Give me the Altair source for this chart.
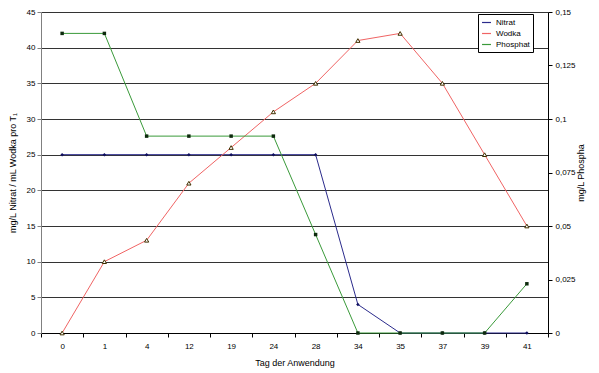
import altair as alt
import pandas as pd

days = ["0", "1", "4", "12", "19", "24", "28", "34", "35", "37", "39", "41"]
nitrat = [25, 25, 25, 25, 25, 25, 25, 4, 0, 0, 0, 0]
wodka = [0, 10, 13, 21, 26, 31, 35, 41, 42, 35, 25, 15]
phosphat = [0.14, 0.14, 0.092, 0.092, 0.092, 0.092, 0.046, 0, 0, 0, 0, 0.023]
series_names = ["Nitrat", "Wodka", "Phosphat"]
series_colors = ["#2b2b8c", "#f06464", "#3a9a3a"]

left_rows = []
for d, n, w in zip(days, nitrat, wodka):
    left_rows.append({"Tag": d, "Serie": "Nitrat", "Wert": n})
    left_rows.append({"Tag": d, "Serie": "Wodka", "Wert": w})
left_df = pd.DataFrame(left_rows)
phos_df = pd.DataFrame({"Tag": days, "Serie": "Phosphat", "Phos": phosphat})

FONT = "Liberation Sans"

x_enc = alt.X(
    "Tag:N",
    sort=days,
    bandPosition=0.5,
    scale=alt.Scale(type="band", paddingInner=0, paddingOuter=0),
    axis=alt.Axis(
        title="Tag der Anwendung",
        labelAngle=0,
        tickBand="extent",
        tickSize=4,
        tickColor="#000000",
        domainColor="#000000",
        labelPadding=5,
        titlePadding=8,
        grid=False,
    ),
)

color_scale = alt.Scale(domain=series_names, range=series_colors)
legend = alt.Legend(
    title=None,
    orient="none",
    legendX=437,
    legendY=2,
    symbolType="stroke",
    symbolSize=80,
    symbolStrokeWidth=1.2,
    strokeColor="#000000",
    fillColor="#ffffff",
    padding=3,
    rowPadding=1,
    labelFontSize=8,
    labelFont=FONT,
    labelLimit=60,
)

y_left = alt.Y(
    "Wert:Q",
    scale=alt.Scale(domain=[0, 45], nice=False),
    axis=alt.Axis(
        title="mg/L Nitrat / mL Wodka pro T₁",
        values=list(range(0, 50, 5)),
        grid=True,
        gridColor="#333333",
        gridWidth=1,
        domainColor="#808080",
        tickColor="#808080",
        tickSize=4,
        labelPadding=2,
        titlePadding=9,
    ),
)

base_left = alt.Chart(left_df)
left_lines = base_left.mark_line(strokeWidth=1).encode(
    x=x_enc,
    y=y_left,
    color=alt.Color("Serie:N", scale=color_scale, legend=legend),
    detail="Serie:N",
)
nitrat_pts = base_left.transform_filter(alt.datum.Serie == "Nitrat").mark_point(
    shape="diamond", filled=True, size=12, color="#101060", opacity=1
).encode(x=x_enc, y=y_left)
wodka_pts = base_left.transform_filter(alt.datum.Serie == "Wodka").mark_point(
    shape="triangle-up", filled=True, size=18, fill="#ffffff", stroke="#403000",
    strokeWidth=1, opacity=1
).encode(x=x_enc, y=y_left)

left_layer = alt.layer(left_lines, nitrat_pts, wodka_pts)

y_right = alt.Y(
    "Phos:Q",
    scale=alt.Scale(domain=[0, 0.15], nice=False),
    axis=alt.Axis(
        orient="right",
        title="mg/L Phospha",
        titleAngle=270,
        values=[0, 0.025, 0.05, 0.075, 0.1, 0.125, 0.15],
        labelExpr="replace(toString(datum.value), '.', ',')",
        grid=False,
        domainColor="#000000",
        tickColor="#000000",
        tickSize=4,
        labelPadding=3,
        titlePadding=10,
    ),
)
base_right = alt.Chart(phos_df)
phos_line = base_right.mark_line(strokeWidth=1).encode(
    x=x_enc,
    y=y_right,
    color=alt.Color("Serie:N", scale=color_scale, legend=legend),
)
phos_pts = base_right.mark_point(
    shape="square", filled=True, size=12, color="#0d2a0d", opacity=1
).encode(x=x_enc, y=y_right)
right_layer = alt.layer(phos_line, phos_pts)

chart = (
    alt.layer(left_layer, right_layer)
    .resolve_scale(y="independent")
    .properties(
        width=507,
        height=321,
        autosize=alt.AutoSizeParams(type="none"),
        padding={"left": 33, "top": 4, "right": 43, "bottom": 37},
        background="#ffffff",
    )
    .configure_view(stroke=None)
    .configure_axis(
        labelFont=FONT,
        labelFontSize=8,
        labelColor="#000000",
        titleFont=FONT,
        titleFontSize=9,
        titleFontWeight="normal",
        titleColor="#000000",
    )
)

chart.save("out.html", embed_options={"renderer": "svg", "actions": False})
